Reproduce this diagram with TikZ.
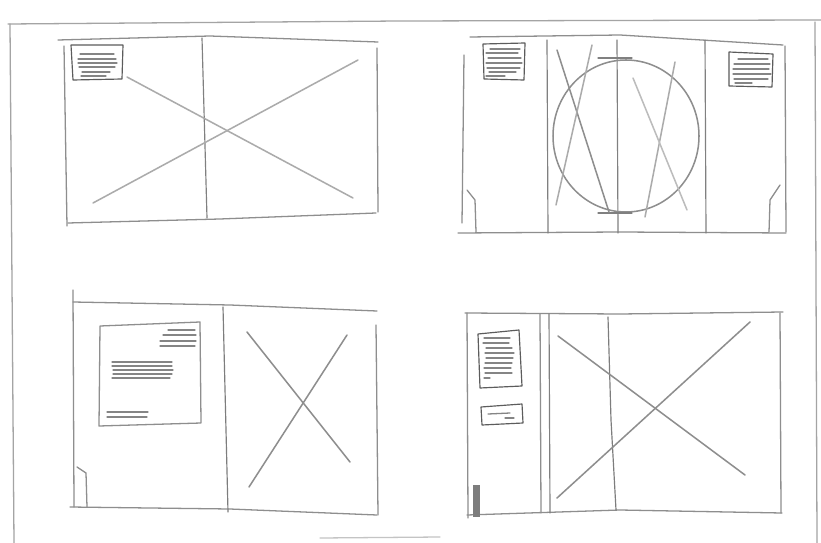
\documentclass[tikz,border=0pt]{standalone}
\usepackage{tikz}
\usetikzlibrary{calc}
\definecolor{pencil}{HTML}{8E8E8E}
\definecolor{plight}{HTML}{ABABAB}
\definecolor{pdark}{HTML}{5C5C5C}
\tikzset{
  frm/.style={draw=pencil,line width=1.1pt,line cap=round,line join=round},
  crs/.style={draw=plight,line width=1.3pt,line cap=round},
  spn/.style={draw=pencil!90!black,line width=1pt,line cap=round},
  txtbox/.style={draw=pdark,line width=1pt,line join=round},
  tln/.style={draw=pdark!75,line width=1.1pt,line cap=round},
}

\begin{document}
\begin{tikzpicture}[x=0.03cm,y=-0.03cm]
\useasboundingbox[fill=white] (0,0) rectangle (821,543);
% sheet
\draw[frm,pencil!80] (8,24) -- (400,21) -- (821,20);
\draw[frm,pencil!80] (10,24) -- (14,543);
\draw[frm,pencil!80] (815,22) -- (817,543);
\draw[frm,plight!70] (320,538) -- (440,537);
% spread 1: full bleed picture
\draw[frm] (58,40) -- (210,36) -- (378,42);
\draw[frm] (64,46) -- (67,226);
\draw[frm] (68,223) -- (220,219) -- (376,213);
\draw[frm] (377,48) -- (378,212);
\draw[spn] (202,38) -- (207,218);
\draw[txtbox] (71,45) -- (123,45) -- (122,79) -- (73,80) -- cycle;
\foreach \y/\a/\b in {54/80/114,59/78/116,63/78/117,67/79/115,72/82/110,76/81/106}
  \draw[tln] (\a,\y) -- (\b,\y);
\draw[crs] (127,77) -- (353,198);
\draw[crs] (93,203) -- (358,60);
% spread 2: gatefold with round picture
\draw[frm] (470,37) -- (620,35) -- (783,45);
\draw[frm] (458,233) -- (620,232) -- (786,233);
\draw[frm] (464,55) -- (462,223);
\draw[frm] (467,190) -- (475,200) -- (476,232);
\draw[frm] (785,46) -- (786,232);
\draw[frm] (780,185) -- (770,200) -- (769,232);
\foreach \x in {547,617,705}
  \draw[spn] (\x,40) -- (\x+1,233);
\draw[txtbox] (483,44) -- (525,43) -- (524,80) -- (484,79) -- cycle;
\foreach \y/\a/\b in {49/490/520,53/486/518,58/488/521,63/486/522,68/487/520,72/489/516,76/486/505}
  \draw[tln] (\a,\y) -- (\b,\y);
\draw[txtbox] (729,52) -- (773,54) -- (772,87) -- (729,86) -- cycle;
\foreach \y/\a/\b in {59/738/768,64/734/770,69/733/769,74/733/771,79/734/768,83/735/752}
  \draw[tln] (\a,\y) -- (\b,\y);
\draw[crs,pencil] (626,136) ellipse (73 and 76);
\draw[spn] (598,58) -- (632,58);
\draw[spn] (598,213) -- (632,213);
\draw[crs,pencil] (557,50) -- (609,212);
\draw[crs] (592,45) -- (556,205);
\draw[crs] (675,62) -- (645,217);
\draw[crs,plight!80] (633,78) -- (687,210);
% spread 3: text page and picture page
\draw[frm] (73,290) -- (74,507);
\draw[frm] (73,302) -- (230,305) -- (377,311);
\draw[frm] (70,507) -- (230,509) -- (377,515);
\draw[frm] (376,325) -- (378,515);
\draw[frm] (77,467) -- (86,473) -- (87,507);
\draw[spn,pdark!80] (223,307) -- (228,512);
\draw[frm] (100,326) -- (200,322) -- (201,423) -- (99,426) -- cycle;
\foreach \y/\a/\b in {330/168/195,335/163/196,341/160/196,346/160/195}
  \draw[tln] (\a,\y) -- (\b,\y);
\foreach \y/\a/\b in {362/112/172,366/112/172,370/113/173,374/113/172,378/112/170}
  \draw[tln] (\a,\y) -- (\b,\y);
\foreach \y/\a/\b in {412/107/148,417/107/147}
  \draw[tln] (\a,\y) -- (\b,\y);
\draw[crs,pencil] (247,332) -- (350,462);
\draw[crs,pencil] (347,335) -- (249,487);
% spread 4: cover with flap
\draw[frm] (465,313) -- (620,314) -- (783,312);
\draw[frm] (467,313) -- (468,518);
\draw[frm] (467,515) -- (620,510) -- (782,513);
\draw[frm] (780,313) -- (781,513);
\draw[frm] (540,314) -- (541,513);
\draw[spn] (549,314) -- (550,513);
\draw[spn,pdark!80] (608,317) -- (611,420) -- (616,510);
\draw[txtbox] (478,334) -- (519,330) -- (522,386) -- (480,388) -- cycle;
\foreach \y/\a/\b in {338/484/510,343/483/509,348/486/512,353/485/514,358/486/513,363/485/512,368/484/511,373/485/512,378/484/490}
  \draw[tln] (\a,\y) -- (\b,\y);
\draw[txtbox] (481,407) -- (522,404) -- (523,423) -- (482,425) -- cycle;
\draw[tln] (488,414) -- (510,413);
\draw[tln] (505,418) -- (514,418);
\fill[pdark!80] (473,485) rectangle (480,517);
\draw[crs,pencil] (558,336) -- (745,475);
\draw[crs,pencil] (557,498) -- (750,322);
\end{tikzpicture}
\end{document}
